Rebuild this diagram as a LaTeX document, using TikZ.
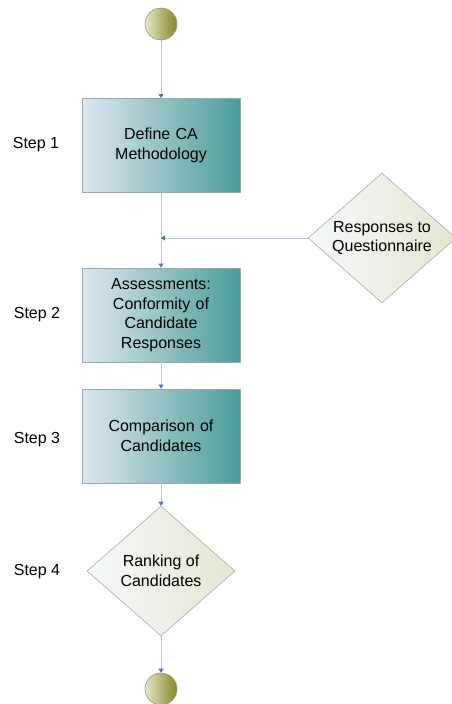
\documentclass[tikz,border=0pt]{standalone}
\usepackage{fontspec}
\setmainfont{Liberation Sans}
\usetikzlibrary{arrows.meta,shapes.geometric}
\definecolor{linec}{HTML}{B4C4DC}
\definecolor{tipc}{HTML}{4472C4}
\definecolor{boxl}{HTML}{DDE7F1}
\definecolor{boxr}{HTML}{4A9D97}
\definecolor{cirl}{HTML}{E6E6C4}
\definecolor{cirr}{HTML}{868628}
\definecolor{dial}{HTML}{F5F7FB}
\definecolor{diar}{HTML}{E3E8D2}
\begin{document}
\begin{tikzpicture}[x=1pt,y=-1pt,
  every node/.style={font=\fontsize{16}{19.5}\selectfont},
  stepbox/.style={rectangle,draw={rgb,255:red,160;green,165;blue,170},line width=0.8pt,left color=boxl,right color=boxr,minimum width=158pt,minimum height=94pt,inner sep=0pt,align=center,text width=150pt},
  endpt/.style={circle,draw={rgb,255:red,150;green,150;blue,140},line width=0.6pt,left color=cirl,right color=cirr,minimum size=32pt,inner sep=0pt},
  decis/.style={diamond,draw={rgb,255:red,170;green,170;blue,170},line width=0.6pt,left color=dial,right color=diar,minimum width=148pt,minimum height=130pt,aspect=1.14,inner sep=0pt,align=center},
  steplbl/.style={anchor=center},
  conn/.style={draw=linec,line width=0.8pt,-{Triangle[length=4pt,width=5pt,color=tipc]}}
]
\useasboundingbox (0,0) rectangle (451,704);
\node[endpt] (start) at (161,24) {};
\node[stepbox] (s1) at (161,145.5) {Define CA\\Methodology};
\node[stepbox] (s2) at (161,315) {Assessments:\\Conformity of\\Candidate\\Responses};
\node[stepbox] (s3) at (161,436) {Comparison of\\Candidates};
\node[decis] (d4) at (161,571) {Ranking of\\Candidates};
\node[endpt] (stop) at (161,689) {};
\node[decis] (resp) at (382,238) {Responses to\\Questionnaire};
\coordinate (join) at (161,238);
\node[steplbl] (l1) at (36,145) {Step 1};
\node[steplbl] (l2) at (37,315) {Step 2};
\node[steplbl] (l3) at (37,440) {Step 3};
\node[steplbl] (l4) at (37,572) {Step 4};
\draw[conn] (start) -- (s1);
\draw[conn] (s1) -- (s2);
\draw[conn] (resp.west) -- (join);
\draw[conn] (s2) -- (s3);
\draw[conn] (s3) -- (d4);
\draw[conn] (d4) -- (stop);
\end{tikzpicture}
\end{document}
